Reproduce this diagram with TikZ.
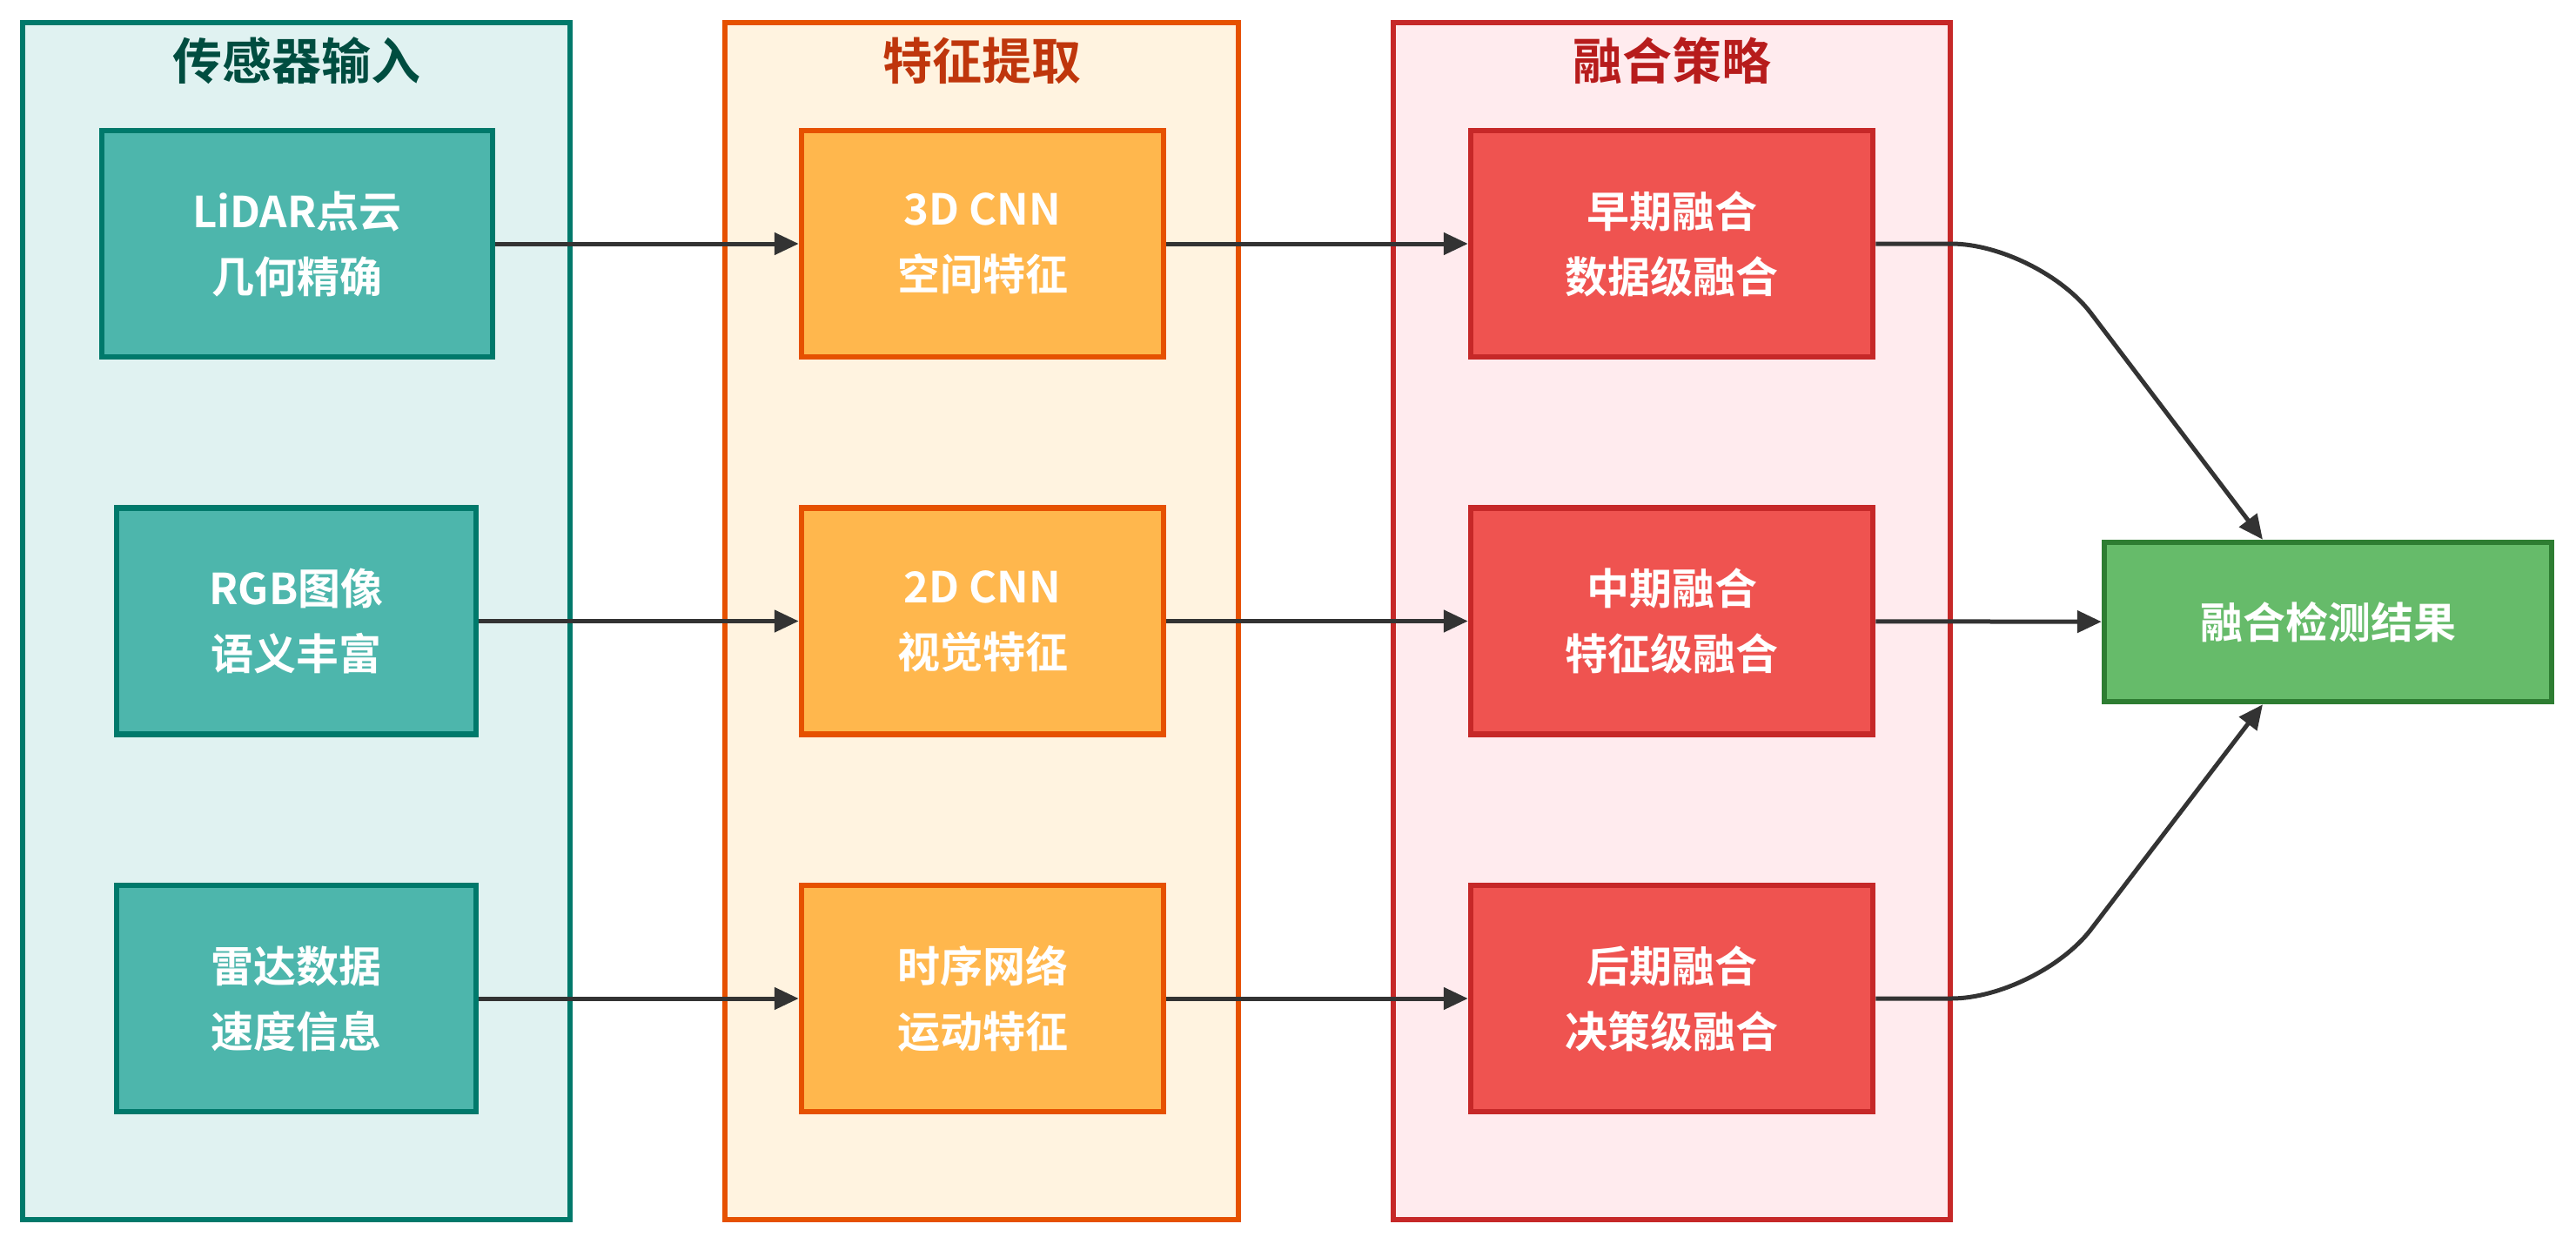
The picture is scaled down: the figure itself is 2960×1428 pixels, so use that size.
\documentclass[tikz,border=0pt]{standalone}
\usepackage{fontspec}
\setmainfont{Noto Sans CJK SC}[BoldFont={* Bold}]
\usetikzlibrary{arrows.meta,calc}

\definecolor{inbg}{HTML}{E0F2F1}
\definecolor{inline}{HTML}{00796B}
\definecolor{infill}{HTML}{4DB6AC}
\definecolor{intitle}{HTML}{004D40}
\definecolor{febg}{HTML}{FFF3E0}
\definecolor{feline}{HTML}{E65100}
\definecolor{fefill}{HTML}{FFB74D}
\definecolor{fetitle}{HTML}{BF360C}
\definecolor{fubg}{HTML}{FFEBEE}
\definecolor{fuline}{HTML}{C62828}
\definecolor{fufill}{HTML}{EF5350}
\definecolor{futitle}{HTML}{B71C1C}
\definecolor{resfill}{HTML}{66BB6A}
\definecolor{resline}{HTML}{2E7D32}
\definecolor{arrowgray}{HTML}{333333}

\begin{document}
\begin{tikzpicture}[x=1pt,y=-1pt,
    flow/.style={draw=arrowgray,line width=5pt,-{Triangle[length=28pt,width=25pt]}}]

      \useasboundingbox (0,0) rectangle (2960,1428);

      % groups
      \begin{scope}[every node/.style={draw,line width=6pt,minimum height=1375pt}]
        \node[fill=inbg,draw=inline,minimum width=629pt]  (g1) at (340.5,713.5) {};
        \node[fill=febg,draw=feline,minimum width=590pt]  (g2) at (1128,713.5)  {};
        \node[fill=fubg,draw=fuline,minimum width=640pt]  (g3) at (1921,713.5)  {};
      \end{scope}

      \begin{scope}[every node/.style={font=\bfseries\fontsize{57}{62}\selectfont}]
        \node[text=intitle] (t1) at (340.5,70) {传感器输入};
        \node[text=fetitle] (t2) at (1128,70)  {特征提取};
        \node[text=futitle] (t3) at (1921,70)  {融合策略};
      \end{scope}

      % boxes
      \begin{scope}[every node/.style={draw,line width=6.5pt,minimum height=260pt,
          align=center,text=white,font=\bfseries\fontsize{49}{75}\selectfont}]
        \node[fill=infill,draw=inline,minimum width=449pt] (1) at (341.5,280)  {LiDAR点云\\几何精确};
        \node[fill=infill,draw=inline,minimum width=413pt] (2) at (340.5,713.5) {RGB图像\\语义丰富};
        \node[fill=infill,draw=inline,minimum width=413pt] (3) at (340.5,1147)  {雷达数据\\速度信息};
        \node[fill=fefill,draw=feline,minimum width=416pt] (4) at (1129,280)    {3D CNN\\空间特征};
        \node[fill=fefill,draw=feline,minimum width=416pt] (5) at (1129,713.5)  {2D CNN\\视觉特征};
        \node[fill=fefill,draw=feline,minimum width=416pt] (6) at (1129,1147)   {时序网络\\运动特征};
        \node[fill=fufill,draw=fuline,minimum width=462pt] (7) at (1921,280)    {早期融合\\数据级融合};
        \node[fill=fufill,draw=fuline,minimum width=462pt] (8) at (1921,713.5)  {中期融合\\特征级融合};
        \node[fill=fufill,draw=fuline,minimum width=462pt] (9) at (1921,1147)   {后期融合\\决策级融合};
        \node[fill=resfill,draw=resline,minimum width=514pt,minimum height=183pt] (10) at (2675,714.5) {融合检测结果};
      \end{scope}

      % connectors
      \draw[flow] (1) -- (4);
      \draw[flow] (2) -- (5);
      \draw[flow] (3) -- (6);
      \draw[flow] (4) -- (7);
      \draw[flow] (5) -- (8);
      \draw[flow] (6) -- (9);
      \draw[flow] (8) -- (10);
      \draw[flow,rounded corners=100pt] (7.east) -- (2342,280) -- ($(10.north)+(-75,0)$);
      \draw[flow,rounded corners=100pt] (9.east) -- (2342,1147) -- ($(10.south)+(-75,0)$);

    \end{tikzpicture}
\end{document}
